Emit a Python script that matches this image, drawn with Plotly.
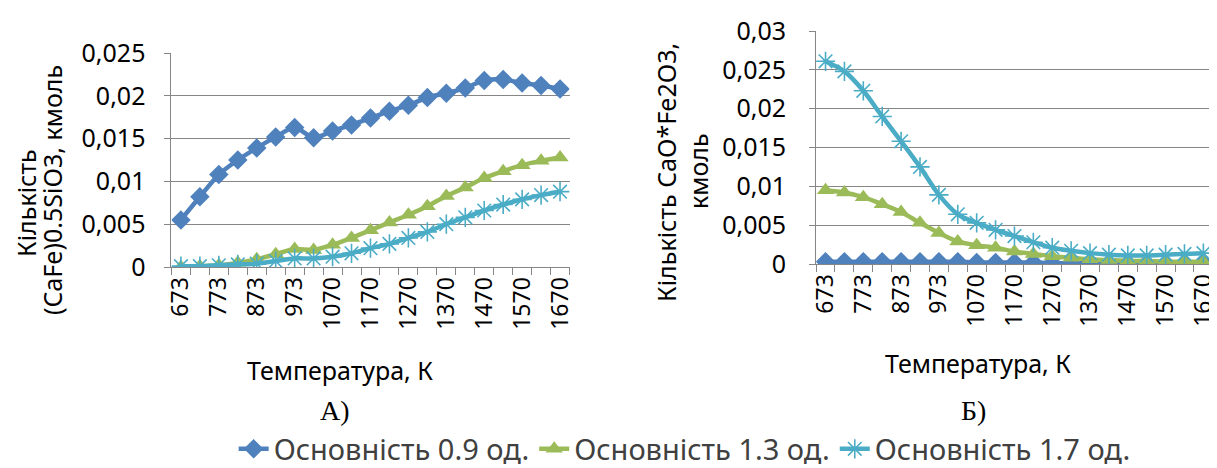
import plotly.graph_objects as go

temps = ["673", "723", "773", "823", "873", "923", "973", "1020", "1070", "1120", "1170",
         "1220", "1270", "1320", "1370", "1420", "1470", "1520", "1570", "1620", "1670"]
tick_text = [t if i % 2 == 0 else "" for i, t in enumerate(temps)]

# Chart A: (CaFe)0.5SiO3
a_09 = [0.0055, 0.0082, 0.0108, 0.0125, 0.0139, 0.0152, 0.0163, 0.0151, 0.0159, 0.0166, 0.0174,
        0.0182, 0.0189, 0.0198, 0.0203, 0.0209, 0.0218, 0.0219, 0.0215, 0.0212, 0.0208]
a_13 = [0.0000, 0.0001, 0.0002, 0.0005, 0.0009, 0.0015, 0.0021, 0.0020, 0.0026, 0.0034, 0.0043,
        0.0052, 0.0061, 0.0071, 0.0083, 0.0093, 0.0104, 0.0112, 0.0119, 0.0124, 0.0128]
a_17 = [0.0001, 0.0001, 0.0002, 0.0003, 0.0004, 0.0007, 0.0010, 0.0010, 0.0012, 0.0016, 0.0022,
        0.0027, 0.0034, 0.0041, 0.0050, 0.0058, 0.0066, 0.0073, 0.0079, 0.0084, 0.0088]

# Chart B: CaO*Fe2O3
b_09 = [0.0003, 0.0003, 0.0003, 0.0003, 0.0003, 0.0003, 0.0003, 0.0003, 0.0002, 0.0002, 0.0002,
        0.0002, 0.0001, 0.0001, 0.0001, 0.0001, 0.0001, 0.0001, 0.0001, 0.0001, 0.0001]
b_13 = [0.0095, 0.0092, 0.0086, 0.0077, 0.0067, 0.0053, 0.0040, 0.0029, 0.0024, 0.0021, 0.0016,
        0.0013, 0.0010, 0.0008, 0.0006, 0.0005, 0.0004, 0.0004, 0.0003, 0.0003, 0.0003]
b_17 = [0.0261, 0.0248, 0.0223, 0.0190, 0.0158, 0.0125, 0.0089, 0.0064, 0.0053, 0.0044, 0.0036,
        0.0028, 0.0021, 0.0017, 0.0014, 0.0012, 0.0011, 0.0011, 0.0012, 0.0013, 0.0014]

names = ["Основність 0.9 од.", "Основність 1.3 од.", "Основність 1.7 од."]
colors = ["#4F81BD", "#9BBB59", "#4BACC6"]
symbols = ["diamond", "triangle-up", "asterisk-open"]

FONT = "Noto Sans"
fig = go.Figure()

for panel, series in (("", (a_09, a_13, a_17)), ("2", (b_09, b_13, b_17))):
    for i, vals in enumerate(series):
        marker = dict(symbol=symbols[i], size=15, color=colors[i])
        if symbols[i] == "asterisk-open":
            marker["line"] = dict(color=colors[i], width=1.6)
            marker["size"] = 16
        fig.add_trace(go.Scatter(
            x=temps, y=vals, name=names[i], mode="lines+markers",
            line=dict(color=colors[i], width=4.5, shape="spline", smoothing=0.8),
            marker=marker, xaxis="x" + panel, yaxis="y" + panel,
            showlegend=(panel == ""), legendrank=i + 1,
        ))

axis_common_x = dict(
    type="category", categoryorder="array", categoryarray=temps,
    tickvals=temps, ticktext=tick_text, tickangle=-90, tickson="boundaries",
    ticks="outside", ticklen=7, tickcolor="#868686", showline=True, linecolor="#868686",
    linewidth=1, showgrid=False, zeroline=False, automargin=False,
    tickfont=dict(family=FONT, size=23, color="#000000"), range=[-0.5, 20.5],
)
axis_common_y = dict(
    showgrid=True, gridcolor="#868686", gridwidth=1, showline=True, linecolor="#868686",
    ticks="outside", ticklen=6, tickcolor="#868686", zeroline=False, automargin=False,
    tickfont=dict(family=FONT, size=25, color="#000000"), tickformat=",",
)

fig.update_layout(
    width=1217, height=468, margin=dict(l=0, r=0, t=0, b=0),
    paper_bgcolor="white", plot_bgcolor="white", separators=", ",
    xaxis=dict(domain=[0.1343, 0.4614], anchor="y", **axis_common_x),
    yaxis=dict(domain=[1 - 259 / 468, 1 - 45 / 468], anchor="x", range=[0, 0.025],
               dtick=0.005, ticklabelstandoff=14, **axis_common_y),
    xaxis2=dict(domain=[0.664, 0.990], anchor="y2", **axis_common_x),
    yaxis2=dict(domain=[1 - 256 / 468, 1 - 23 / 468], anchor="x2", range=[0, 0.03],
                dtick=0.005, ticklabelstandoff=18, **axis_common_y),
    legend=dict(orientation="h", x=0.556, xanchor="center", y=1 - 441 / 468, yanchor="middle",
                font=dict(family=FONT, size=29, color="#404040"), itemwidth=30,
                tracegroupgap=0, bgcolor="rgba(0,0,0,0)"),
    showlegend=True,
)

def ann(text, x, y, size=25, angle=0, family=FONT, color="#000000"):
    fig.add_annotation(text=text, x=x / 1217, y=1 - y / 468, xref="paper", yref="paper",
                       showarrow=False, textangle=angle, xanchor="center", yanchor="middle",
                       font=dict(family=family, size=size, color=color))

ann("Кількість", 18, 195, angle=-90)
ann("(CaFe)0.5SiO3, кмоль", 44, 182, angle=-90)
ann("Кількість CaO*Fe2O3,", 658, 165, angle=-90)
ann("кмоль", 690, 163, angle=-90)
ann("Температура, К", 332, 362)
ann("Температура, К", 970, 355)
ann("А)", 327, 402, size=28, family="Liberation Serif")
ann("Б)", 965, 402, size=28, family="Liberation Serif")

fig.write_html("out.html")
